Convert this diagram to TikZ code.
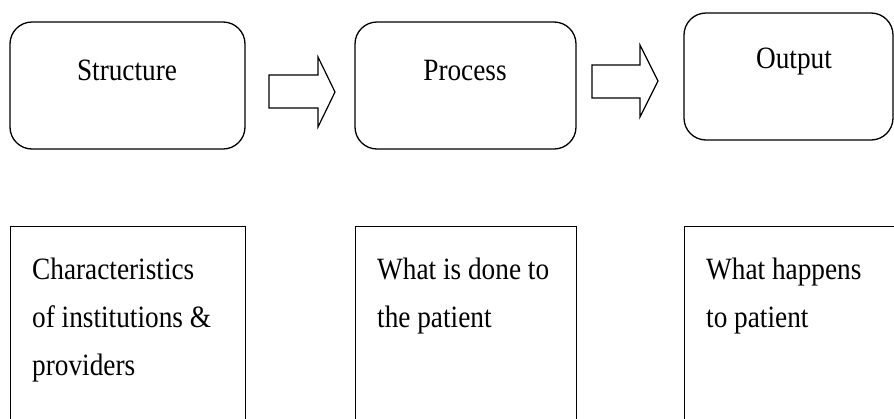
\documentclass[tikz,border=0pt]{standalone}
\usepackage{fontspec}
\setmainfont{Liberation Serif}[FakeStretch=0.88]
\begin{document}
\begin{tikzpicture}[x=1pt,y=-1pt,
  topbox/.style={draw,line width=1.3pt,rounded corners=22pt,inner sep=0pt,minimum width=235pt,minimum height=127pt},
  botbox/.style={draw,line width=1.3pt,inner sep=0pt,anchor=north west,minimum height=230pt},
  lbl/.style={inner sep=0pt,font=\fontsize{31}{48}\selectfont},
  txt/.style={inner sep=0pt,anchor=base west,font=\fontsize{31}{48}\selectfont},
  blockarrow/.style={draw,line width=1.2pt,line join=miter}]
\useasboundingbox (0,0) rectangle (894,418);
\clip (0,0) rectangle (894,418);
% top boxes
\node[topbox] (s) at (127.5,85.5) {};
\node[topbox,minimum width=221pt] (p) at (465.5,85.5) {};
\node[topbox,minimum width=209pt] (o) at (788.5,76.5) {};
\node[lbl] (sl) at (127,70) {Structure};
\node[lbl] (pl) at (465,70) {Process};
\node[lbl] (ol) at (794,62) {Output};
% block arrows
\draw[blockarrow] (269,75) -- (318,75) -- (318,57) -- (335,92) -- (318,127) -- (318,108) -- (269,108) -- cycle;
\draw[blockarrow] (592,65) -- (640,65) -- (640,45) -- (658,81) -- (640,117) -- (640,98) -- (592,98) -- cycle;
% bottom boxes
\node[botbox,minimum width=235pt] (a) at (10,226) {};
\node[botbox,minimum width=221pt] (b) at (355,226) {};
\node[botbox,minimum width=240pt] (c) at (684,226) {};
\node[txt] (a1) at (32,279) {Characteristics};
\node[txt] (a2) at (32,327) {of institutions \&};
\node[txt] (a3) at (32,375) {providers};
\node[txt] (b1) at (377,279) {What is done to};
\node[txt] (b2) at (377,327) {the patient};
\node[txt] (c1) at (706,279) {What happens};
\node[txt] (c2) at (706,327) {to patient};
\end{tikzpicture}
\end{document}
